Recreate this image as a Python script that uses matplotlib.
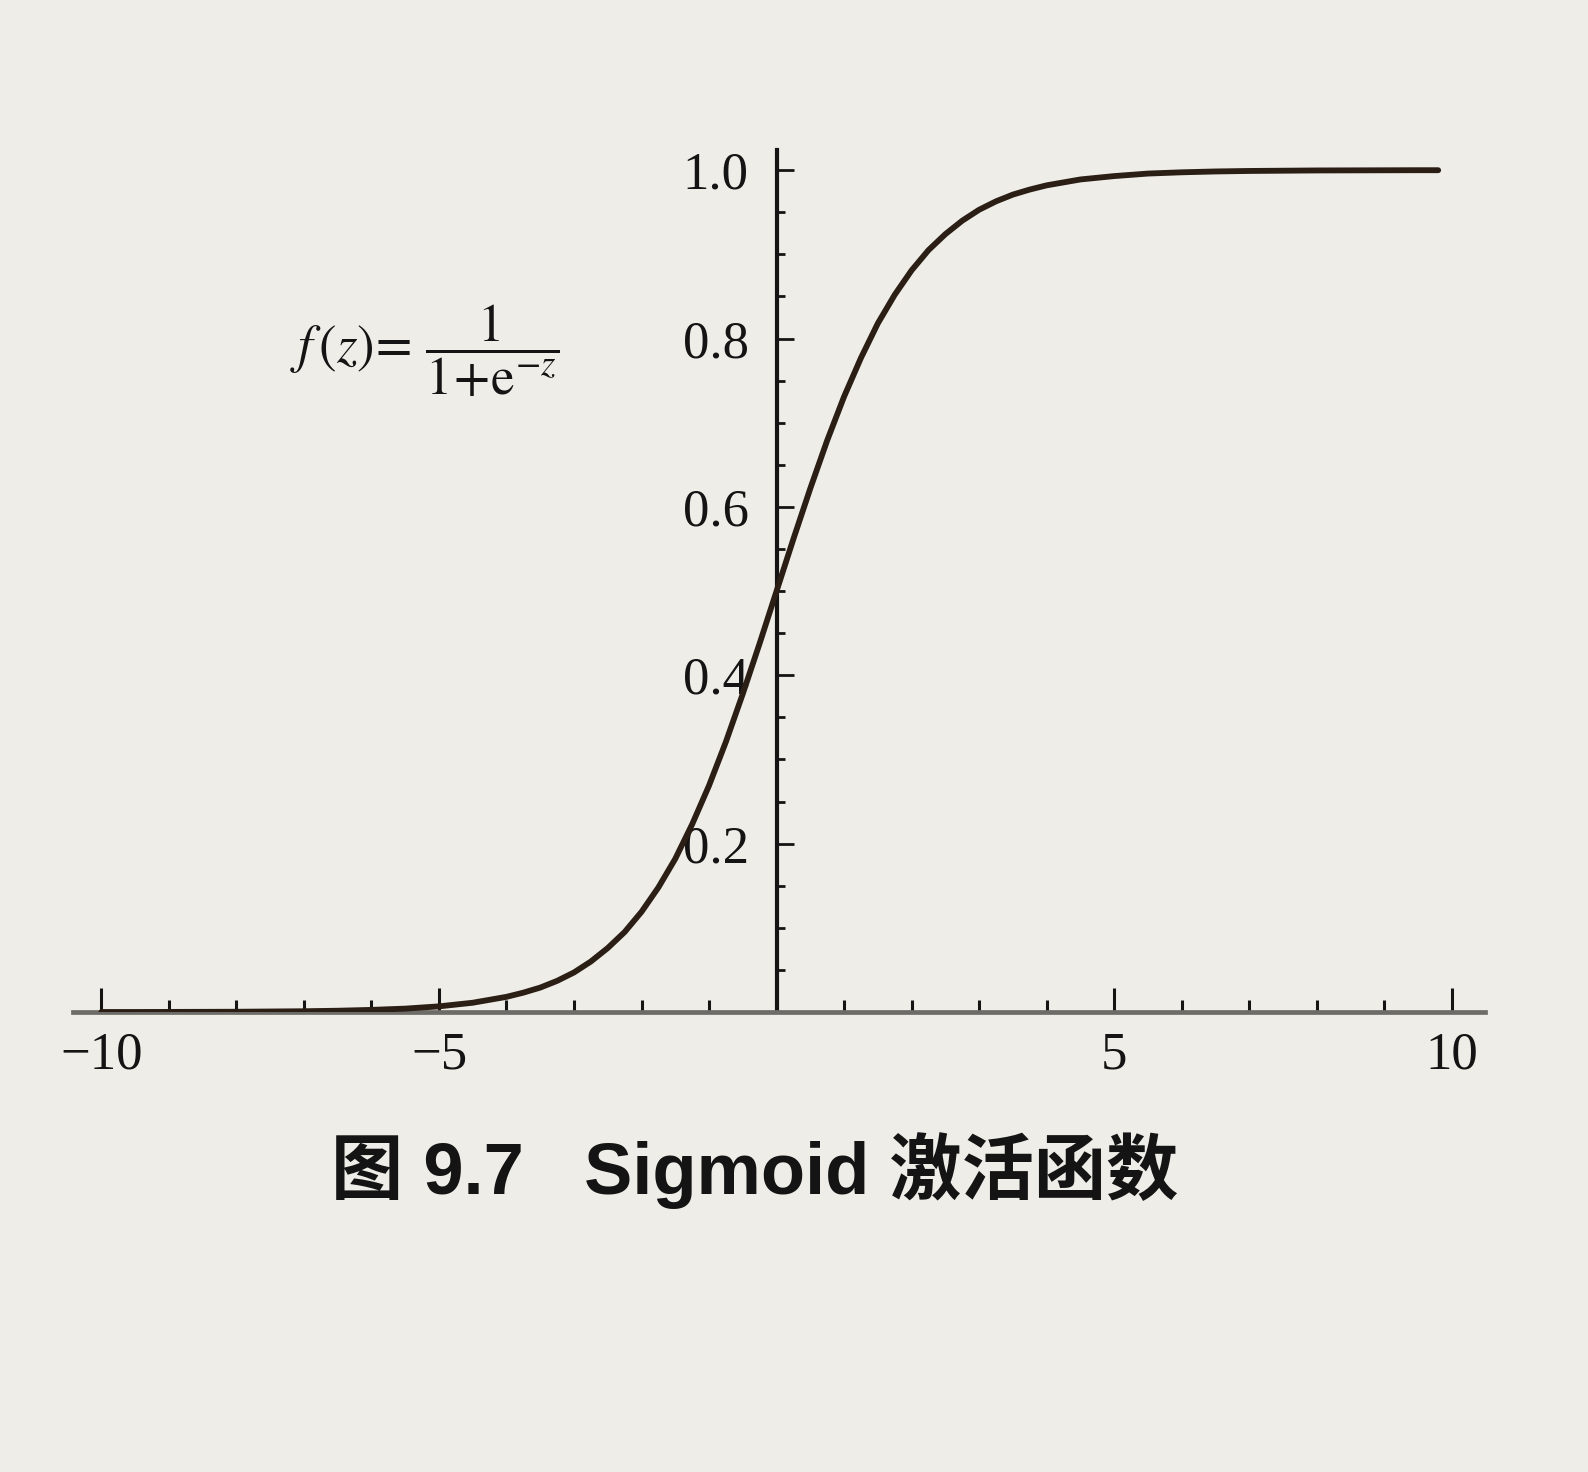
import matplotlib
matplotlib.use("Agg")
import matplotlib.pyplot as plt
from matplotlib.ticker import FixedLocator, FixedFormatter

# values
z = [-10, -9.5, -9, -8.5, -8, -7.5, -7, -6.5, -6, -5.5, -5, -4.5, -4, -3.75, -3.5,
     -3.25, -3, -2.75, -2.5, -2.25, -2, -1.75, -1.5, -1.25, -1, -0.75, -0.5, -0.25,
     0, 0.25, 0.5, 0.75, 1, 1.25, 1.5, 1.75, 2, 2.25, 2.5, 2.75, 3, 3.25, 3.5, 3.75,
     4, 4.5, 5, 5.5, 6, 6.5, 7, 7.5, 8, 8.5, 9, 9.5, 9.8]
fz = [0.0, 0.0, 0.0001, 0.0002, 0.0003, 0.0006, 0.0009, 0.0015, 0.0025, 0.004, 0.0067,
      0.011, 0.018, 0.023, 0.029, 0.037, 0.047, 0.060, 0.076, 0.095, 0.119, 0.148,
      0.182, 0.223, 0.269, 0.321, 0.378, 0.438, 0.500, 0.562, 0.622, 0.679, 0.731,
      0.777, 0.818, 0.852, 0.881, 0.905, 0.924, 0.940, 0.953, 0.963, 0.971, 0.977,
      0.982, 0.989, 0.993, 0.996, 0.9975, 0.9985, 0.9991, 0.9994, 0.9997, 0.9998,
      0.9999, 1.0, 1.0]

x_major = [-10, -5, 5, 10]
x_minor = [-9, -8, -7, -6, -4, -3, -2, -1, 1, 2, 3, 4, 6, 7, 8, 9]
y_major = [0.2, 0.4, 0.6, 0.8, 1.0]
y_minor = [0.05, 0.1, 0.15, 0.25, 0.3, 0.35, 0.45, 0.5, 0.55, 0.65, 0.7, 0.75,
           0.85, 0.9, 0.95]
y_labels = ["0.2", "0.4", "0.6", "0.8", "1.0"]

paper = "#eeede7"
ink = "#141414"

fig = plt.figure(figsize=(15.88, 14.72), dpi=100, facecolor=paper)
ax = fig.add_axes([0.046, 0.3125, 0.889, 0.5856])
ax.set_facecolor(paper)

ax.plot(z, fz, color="#2b1e15", linewidth=4.2, solid_capstyle="round", zorder=3)

ax.set_xlim(-10.42, 10.49)
ax.set_ylim(0, 1.024)

# axes through origin
ax.spines["left"].set_position(("data", 0))
ax.spines["right"].set_visible(False)
ax.spines["top"].set_visible(False)
ax.spines["left"].set_linewidth(3.0)
ax.spines["left"].set_color(ink)
ax.spines["bottom"].set_linewidth(3.4)
ax.spines["bottom"].set_color("#6e6c68")

ax.xaxis.set_major_locator(FixedLocator(x_major))
ax.xaxis.set_minor_locator(FixedLocator(x_minor))
ax.yaxis.set_major_locator(FixedLocator(y_major))
ax.yaxis.set_minor_locator(FixedLocator(y_minor))
ax.yaxis.set_major_formatter(FixedFormatter(y_labels))

ax.tick_params(axis="x", which="major", direction="in", length=17, width=2.2,
               color=ink, pad=14, labelsize=38, labelcolor=ink)
ax.tick_params(axis="x", which="minor", direction="in", length=9, width=2.2, color=ink)
ax.tick_params(axis="y", which="major", direction="in", length=12, width=2.0,
               color=ink, pad=20, labelsize=38, labelcolor=ink)
ax.tick_params(axis="y", which="minor", direction="in", length=6, width=2.0, color=ink)
for lab in ax.get_xticklabels() + ax.get_yticklabels():
    lab.set_family("Liberation Serif")

plt.rcParams["mathtext.fontset"] = "stix"
ax.text(-7.2, 0.786, r"$f\,(z)\!=\,\dfrac{1}{1\!+\!\mathrm{e}^{-z}}$",
        fontsize=38, color=ink, ha="left", va="center")

fig.text(0.475, 0.205, "图 9.7   Sigmoid 激活函数", fontsize=52, fontweight="bold",
         color=ink, ha="center", va="center",
         family=["Liberation Sans", "Noto Sans CJK SC"])

fig.savefig("out.png", dpi=100, facecolor=paper)
